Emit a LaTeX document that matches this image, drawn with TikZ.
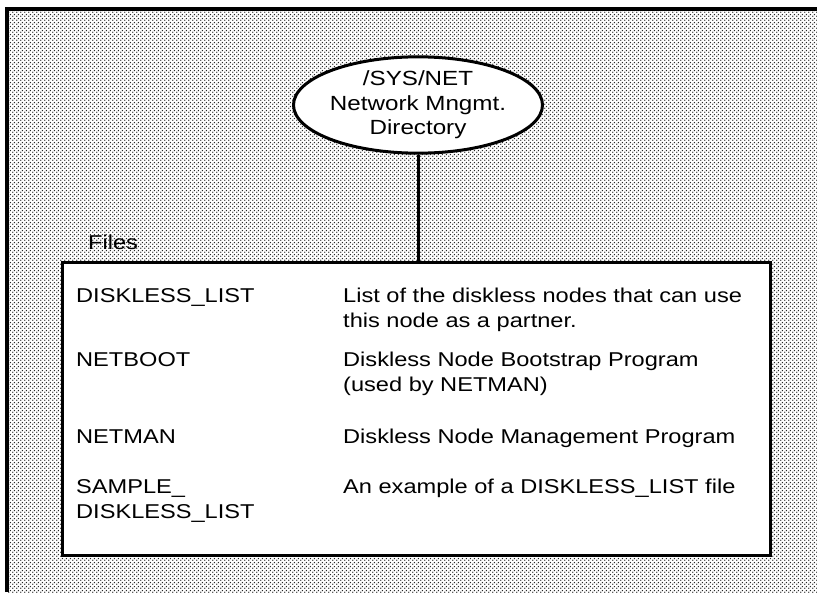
\documentclass[tikz,border=0pt]{standalone}
\usepackage{fontspec}
\setmainfont{Liberation Sans}[FakeStretch=1.18]
\usetikzlibrary{shapes.geometric,patterns}

% halftone dots of the background
\pgfdeclarepatternformonly{halfdots}{\pgfqpoint{0pt}{0pt}}{\pgfqpoint{4pt}{4pt}}{\pgfqpoint{4pt}{4pt}}{
  \pgfpathcircle{\pgfqpoint{1pt}{1pt}}{0.9pt}
  \pgfpathcircle{\pgfqpoint{3pt}{3pt}}{0.9pt}
  \pgfusepath{fill}}

\tikzset{
  dirnode/.style={draw, ellipse, line width=3pt, fill=white, inner sep=0pt,
    minimum width=236pt, minimum height=86pt, align=center},
  filesbox/.style={draw, line width=3.6pt, fill=white, inner sep=0pt,
    minimum width=708pt, minimum height=293pt},
  entry/.style={anchor=base west, align=left, inner sep=0pt},
}

\begin{document}
\begin{tikzpicture}[x=1pt,y=-1pt,font=\fontsize{20}{25}\selectfont]
        \useasboundingbox (0,0) rectangle (817,592);
        % dotted background with frame
        \fill[white] (7,9) rectangle (817,592);
        \fill[pattern=halfdots, pattern color=black!85] (7,9) rectangle (817,592);
        \draw[line width=4.5pt] (7,592) -- (7,9) -- (817,9);
        % directory
        \node[dirnode, font=\fontsize{20.5}{24.5}\selectfont] (netdir) at (418,105) {/SYS/NET\\Network Mngmt.\\Directory};
        % files box
        \node[filesbox] (files) at (416.5,409) {};
        \node[entry] (fileslbl) at (88,249) {Files};
        \draw[line width=3pt] (netdir.south) -- (netdir.south |- files.north);
        % entries (two-line nodes sit on the baseline of their last line)
        \node[entry] (dlist) at (76,302) {DISKLESS\_LIST};
        \node[entry] (dlistdesc) at (343,327) {List of the diskless nodes that can use\\this node as a partner.};
        \node[entry] (netboot) at (76,366) {NETBOOT};
        \node[entry] (netbootdesc) at (343,391) {Diskless Node Bootstrap Program\\(used by NETMAN)};
        \node[entry] (netman) at (76,443) {NETMAN};
        \node[entry] (netmandesc) at (343,443) {Diskless Node Management Program};
        \node[entry] (sample) at (76,518) {SAMPLE\_\\DISKLESS\_LIST};
        \node[entry] (sampledesc) at (343,493) {An example of a DISKLESS\_LIST file};
    \end{tikzpicture}
\end{document}
